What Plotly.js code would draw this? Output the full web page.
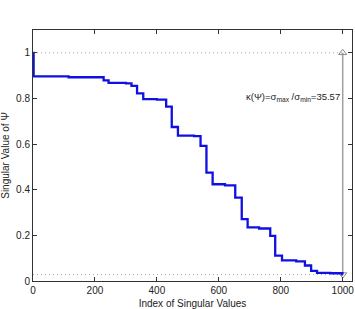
<!DOCTYPE html>
<html>
<head>
<meta charset="utf-8">
<script src="https://cdn.plot.ly/plotly-3.0.1.min.js"></script>
<style>html,body{margin:0;padding:0;background:#fff;}#chart{width:355px;height:309px;}</style>
</head>
<body>
<div id="chart"></div>
<script>
// Singular values of Psi, sorted: each entry starts a new level at that index
const stepIndex = [1, 2, 115, 228, 244, 300, 318, 336, 356, 400, 430, 448, 468, 520, 541, 560, 580, 620, 653, 674, 693, 730, 766, 782, 804, 850, 878, 898, 917, 960, 999, 1000];
const stepValue = [1.0, 0.897, 0.893, 0.879, 0.868, 0.866, 0.855, 0.822, 0.797, 0.795, 0.764, 0.675, 0.637, 0.635, 0.592, 0.475, 0.424, 0.419, 0.365, 0.271, 0.235, 0.230, 0.198, 0.111, 0.090, 0.086, 0.068, 0.044, 0.036, 0.034, 0.0281, 0.0281];

const sigmaMax = 1.0;
const sigmaMin = 0.0281;
const condNumber = 35.57;

const xTicks = [0, 200, 400, 600, 800, 1000];
const yTicks = [0, 0.2, 0.4, 0.6, 0.8, 1];
const yTickText = ['0', '0.2', '0.4', '0.6', '0.8', '1'];

const lastIndex = stepIndex[stepIndex.length - 1];
const FONT = 'Liberation Sans, Arial, sans-serif';

const traces = [
  { // dotted reference levels at sigma max / min
    x: [0, lastIndex], y: [sigmaMax, sigmaMax], mode: 'lines',
    line: {color: '#a8a8a8', width: 1, dash: '1px,3px'}, hoverinfo: 'skip'
  },
  {
    x: [0, lastIndex], y: [sigmaMin, sigmaMin], mode: 'lines',
    line: {color: '#a8a8a8', width: 1, dash: '1px,3px'}, hoverinfo: 'skip'
  },
  { // double arrow spanning sigma min..max
    x: [lastIndex, lastIndex], y: [sigmaMin, sigmaMax], mode: 'lines',
    line: {color: '#a0a0a0', width: 1.5}, hoverinfo: 'skip'
  },
  {
    x: [lastIndex], y: [sigmaMax], mode: 'markers',
    marker: {symbol: 'triangle-up-open', size: 7, color: '#888', line: {width: 1}}
  },
  {
    x: [lastIndex], y: [sigmaMin], mode: 'markers',
    marker: {symbol: 'triangle-down-open', size: 7, color: '#888', line: {width: 1}}
  },
  { // singular value spectrum
    x: stepIndex, y: stepValue, mode: 'lines',
    line: {color: '#1010e0', width: 2.3, shape: 'hv'}
  }
];

const axisCommon = {
  showgrid: false, zeroline: false, showline: true, mirror: 'ticks',
  linecolor: '#333', linewidth: 1, ticks: 'inside', ticklen: 4, tickcolor: '#333',
  tickfont: {family: FONT, size: 10, color: '#222'}
};

const layout = {
  width: 355, height: 309,
  margin: {l: 33, r: 3, t: 30, b: 28},
  paper_bgcolor: '#fff', plot_bgcolor: '#fff',
  showlegend: false,
  xaxis: Object.assign({}, axisCommon, {
    range: [0, 1030], tickvals: xTicks,
    title: {text: 'Index of Singular Values', standoff: 5,
      font: {family: FONT, size: 10, color: '#222'}}
  }),
  yaxis: Object.assign({}, axisCommon, {
    range: [0, 1.1], tickvals: yTicks, ticktext: yTickText,
    title: {text: 'Singular Value of Ψ', standoff: 4,
      font: {family: FONT, size: 10, color: '#222'}}
  }),
  annotations: [{
    x: 997, y: 0.806, xref: 'x', yref: 'y', xanchor: 'right', yanchor: 'middle',
    showarrow: false,
    text: 'κ(Ψ)=σ<sub>max</sub> /σ<sub>min</sub>=' + condNumber.toFixed(2),
    font: {family: FONT, size: 9.5, color: '#222'}
  }]
};

Plotly.newPlot('chart', traces, layout, {staticPlot: true, displayModeBar: false});
</script>
</body>
</html>
